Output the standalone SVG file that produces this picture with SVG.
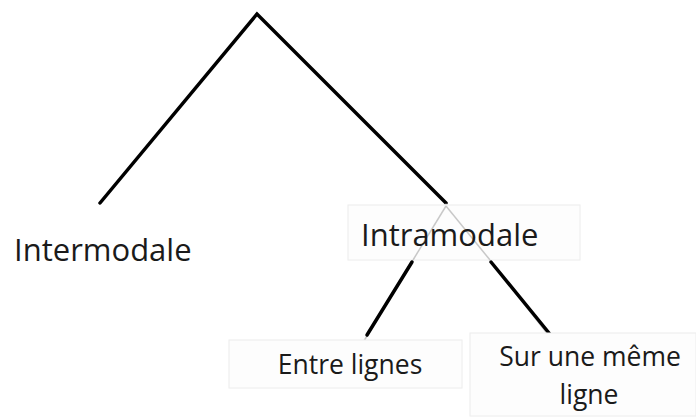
<svg xmlns="http://www.w3.org/2000/svg" width="696" height="419" viewBox="0 0 696 419">
<style>
.e{stroke:#000;stroke-width:3.5;stroke-linecap:round;fill:none}
.g{stroke:#c8c8c8;stroke-width:1.5;fill:none}
.b{fill:#fdfdfd;stroke:#ececec;stroke-width:1}
.t{font-family:"Open Sans","Liberation Sans",sans-serif;fill:#1a1a1a}
</style>
<rect width="696" height="419" fill="#fff"/>
<g id="connectors">
<polyline class="e" points="100,203 257,14 446,203"/>
<line class="g" x1="446" y1="204" x2="355" y2="356"/>
<line class="g" x1="446" y1="204" x2="560" y2="350"/>
</g>
<g id="intramodale">
<rect class="b" x="348" y="205" width="232" height="55"/>
<line class="g" x1="446" y1="206" x2="413" y2="260"/>
<line class="g" x1="446" y1="206" x2="490" y2="260"/>
<text class="t" x="361" y="246" font-size="31">Intramodale</text>
</g>
<g id="intramodale-edges">
<line class="e" x1="412" y1="262" x2="367" y2="335"/>
<line class="e" x1="491" y1="262" x2="549" y2="333"/>
</g>
<g id="intermodale">
<text class="t" x="14" y="261" font-size="31">Intermodale</text>
</g>
<g id="entre">
<rect class="b" x="229" y="340" width="233" height="48"/>
<text class="t" x="350" y="374" font-size="26.5" text-anchor="middle">Entre lignes</text>
</g>
<g id="sur">
<rect class="b" x="470" y="333" width="226" height="83"/>
<text class="t" x="590" y="366" font-size="26.5" text-anchor="middle">Sur une même</text>
<text class="t" x="589" y="404" font-size="26.5" text-anchor="middle">ligne</text>
</g>
</svg>
